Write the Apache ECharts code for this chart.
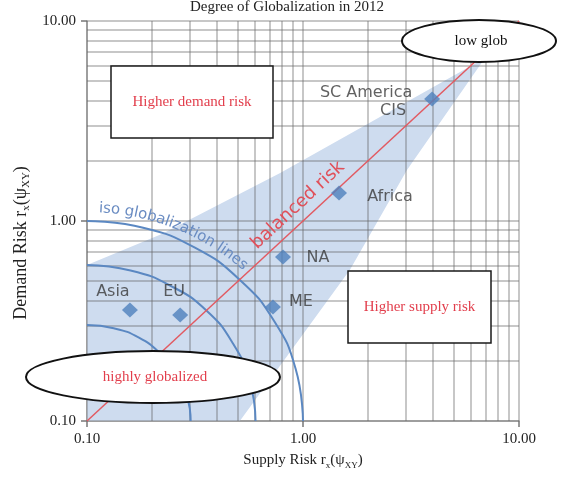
<!DOCTYPE html>
<html>
<head>
<meta charset="utf-8">
<script src="https://cdn.jsdelivr.net/npm/echarts@6.0.0/dist/echarts.min.js"></script>
<style>
  html, body { margin: 0; padding: 0; background: #fff; }
  #chart { width: 563px; height: 482px; }
</style>
</head>
<body>
<div id="chart"></div>
<script>
// regions and their risk values
const regions = ['Asia', 'EU', 'ME', 'NA', 'Africa', 'SC America / CIS'];
const supplyRisk = [0.158, 0.270, 0.726, 0.808, 1.468, 3.96];
const demandRisk = [0.359, 0.339, 0.372, 0.661, 1.38, 4.07];

// grid values on both log axes
const majorTicks = [0.1, 1, 10];
const minorTicks = [0.2, 0.3, 0.4, 0.5, 0.6, 0.7, 0.8, 0.9, 2, 3, 4, 5, 6, 7, 8, 9];

// balanced risk diagonal
const balancedLine = [[0.1, 0.1], [10, 10]];

// iso globalization lines, points read along each arc
const isoInner = [[0.302, 0.1], [0.291, 0.133], [0.261, 0.174], [0.218, 0.218], [0.174, 0.261], [0.133, 0.291], [0.1, 0.302]];
const isoMiddle = [[0.603, 0.1], [0.566, 0.159], [0.473, 0.245], [0.357, 0.357], [0.245, 0.473], [0.159, 0.566], [0.1, 0.603]];
const isoOuter = [[1.0, 0.1], [0.925, 0.182], [0.735, 0.316], [0.509, 0.509], [0.316, 0.735], [0.182, 0.925], [0.1, 1.0]];

// shaded cone around the diagonal
const cone = [[0.1, 0.1], [0.1, 0.603], [0.222, 0.861], [0.784, 1.74], [6.96, 6.53], [3.03, 1.80], [1.65, 0.57], [0.51, 0.1]];

const serif = '"Liberation Serif", "Times New Roman", serif';
const sans = '"DejaVu Sans", sans-serif';
const red = '#e23e4c';

// label placement for the region names (px from the marker centre)
const labelOffsets = {
  'Asia': [-17, -18],
  'EU': [-6, -23],
  'ME': [28, -5],
  'NA': [35, 1],
  'Africa': [51, 4],
  'SC America / CIS': [-66, 3]
};

const chart = echarts.init(document.getElementById('chart'));

const gridLines = majorTicks.concat(minorTicks);

// text along the outer iso line
function isoText() {
  const txt = 'iso globalization lines';
  const font = '15px "DejaVu Sans"';
  const ctx = document.createElement('canvas').getContext('2d');
  ctx.font = font;
  const cx = 87, cy = 421, rx = 229, ry = 213;
  let t = 87 * Math.PI / 180;
  const out = [];
  for (const ch of txt) {
    const w = ctx.measureText(ch).width;
    const r = Math.sqrt(Math.pow(rx * Math.sin(t), 2) + Math.pow(ry * Math.cos(t), 2));
    const tm = t - (w / 2) / r;
    const ang = Math.atan2(ry * Math.cos(tm), rx * Math.sin(tm));
    out.push({
      type: 'text',
      z: 50,
      x: cx + rx * Math.cos(tm),
      y: cy - ry * Math.sin(tm),
      rotation: -ang,
      silent: true,
      style: { text: ch, font: font, fill: '#6a8cc2', align: 'center', verticalAlign: 'middle' }
    });
    t -= w / r;
  }
  return out;
}

function box(x, y, w, h, text) {
  return [
    { type: 'rect', z: 60, shape: { x: x, y: y, width: w, height: h },
      style: { fill: '#fff', stroke: '#1a1a1a', lineWidth: 1.5 } },
    { type: 'text', z: 61, x: x + w / 2, y: y + h / 2,
      style: { text: text, font: '15px ' + serif, fill: red, align: 'center', verticalAlign: 'middle' } }
  ];
}

function oval(cx, cy, rx, ry, text, color) {
  return [
    { type: 'ellipse', z: 60, shape: { cx: cx, cy: cy, rx: rx, ry: ry },
      style: { fill: '#fff', stroke: '#111', lineWidth: 2 } },
    { type: 'text', z: 61, x: cx + 2, y: cy,
      style: { text: text, font: '15px ' + serif, fill: color, align: 'center', verticalAlign: 'middle' } }
  ];
}

const axisCommon = {
  type: 'log',
  logBase: 10,
  min: 0.1,
  max: 10,
  interval: 1,
  axisLine: { show: true, lineStyle: { color: '#aaa', width: 1.5 } },
  axisTick: { show: true, length: 6, lineStyle: { color: '#777', width: 1.5 } },
  splitLine: { show: false },
  minorTick: { show: false },
  axisLabel: {
    margin: 11,
    fontFamily: serif,
    fontSize: 15,
    color: '#222',
    formatter: v => Number(v).toFixed(2)
  }
};

const nameRich = size => ({
  n: { fontFamily: serif, fontSize: size, color: '#222', lineHeight: 20 },
  s: { fontFamily: serif, fontSize: Math.round(size * 0.6), color: '#222', lineHeight: 8, verticalAlign: 'bottom' }
});

const isoStyle = { color: '#5b88c2', width: 2 };

const option = {
  animation: false,
  title: {
    text: 'Degree of Globalization in 2012',
    left: 190,
    top: 0,
    padding: 0,
    textStyle: { fontFamily: serif, fontSize: 15, fontWeight: 'normal', color: '#222' }
  },
  grid: { left: 87, right: 44, top: 21, bottom: 61 },
  xAxis: Object.assign({}, axisCommon, {
    name: '{n|Supply Risk r}{s|x}{n|(ψ}{s|XY}{n|)}',
    nameLocation: 'middle',
    nameGap: 29,
    nameTextStyle: { rich: nameRich(15) }
  }),
  yAxis: Object.assign({}, axisCommon, {
    name: '{n|Demand Risk r}{s|x}{n|(ψ}{s|XY}{n|)}',
    nameLocation: 'middle',
    nameGap: 55,
    nameTextStyle: { rich: nameRich(18), padding: [0, 44, 0, 0] }
  }),
  series: [
    {
      type: 'custom',
      z: 0.5,
      silent: true,
      data: cone,
      encode: { x: 0, y: 1 },
      renderItem: (params, api) => {
        if (params.dataIndex !== 0) return null;
        return {
          type: 'polygon',
          shape: { points: cone.map(p => api.coord(p)) },
          style: { fill: '#cedcef' }
        };
      }
    },
    {
      type: 'line',
      data: [],
      silent: true,
      markLine: {
        silent: true,
        z: 1,
        symbol: ['none', 'none'],
        label: { show: false },
        lineStyle: { color: 'rgba(100,100,100,0.36)', width: 2, type: 'solid' },
        emphasis: { disabled: true },
        data: gridLines.map(v => ({ xAxis: v })).concat(gridLines.map(v => ({ yAxis: v })))
      }
    },
    { type: 'line', z: 2, smooth: true, symbol: 'none', silent: true, data: isoInner, lineStyle: isoStyle },
    { type: 'line', z: 2, smooth: true, symbol: 'none', silent: true, data: isoMiddle, lineStyle: isoStyle },
    { type: 'line', z: 2, smooth: true, symbol: 'none', silent: true, data: isoOuter, lineStyle: isoStyle },
    {
      type: 'line',
      data: [],
      silent: true,
      markLine: {
        silent: true,
        z: 3,
        symbol: ['none', 'none'],
        lineStyle: { color: '#e25a62', width: 1.5, type: 'solid' },
        emphasis: { disabled: true },
        label: {
          show: true,
          position: 'middle',
          formatter: 'balanced risk',
          distance: 6,
          padding: [0, 0, 0, 14],
          color: '#e0505a',
          fontFamily: sans,
          fontSize: 18
        },
        data: [[{ coord: balancedLine[0] }, { coord: balancedLine[1] }]]
      }
    },
    {
      type: 'scatter',
      z: 4,
      symbol: 'diamond',
      symbolSize: [16, 15],
      itemStyle: { color: '#4f81bd' },
      label: {
        show: true,
        position: 'inside',
        formatter: '{b}',
        fontFamily: sans,
        fontSize: 16,
        color: '#3a3a3a'
      },
      data: regions.map((name, i) => {
        const item = {
          name: name,
          value: [supplyRisk[i], demandRisk[i]],
          label: { offset: labelOffsets[name] }
        };
        if (name === 'SC America / CIS') {
          item.label.formatter = '{t|SC America}\n{c|CIS}';
          item.label.rich = {
            t: { fontFamily: sans, fontSize: 16, color: '#3a3a3a', lineHeight: 18 },
            c: { fontFamily: sans, fontSize: 16, color: '#3a3a3a', lineHeight: 18, padding: [0, 0, 0, 54] }
          };
        }
        return item;
      })
    }
  ],
  graphic: [].concat(
    isoText(),
    box(111, 66, 162, 72, 'Higher demand risk'),
    box(348, 271, 143, 72, 'Higher supply risk'),
    oval(479, 41, 77, 21, 'low glob', '#111'),
    oval(153, 377, 127, 26, 'highly globalized', red)
  )
};

chart.setOption(option);
</script>
</body>
</html>
